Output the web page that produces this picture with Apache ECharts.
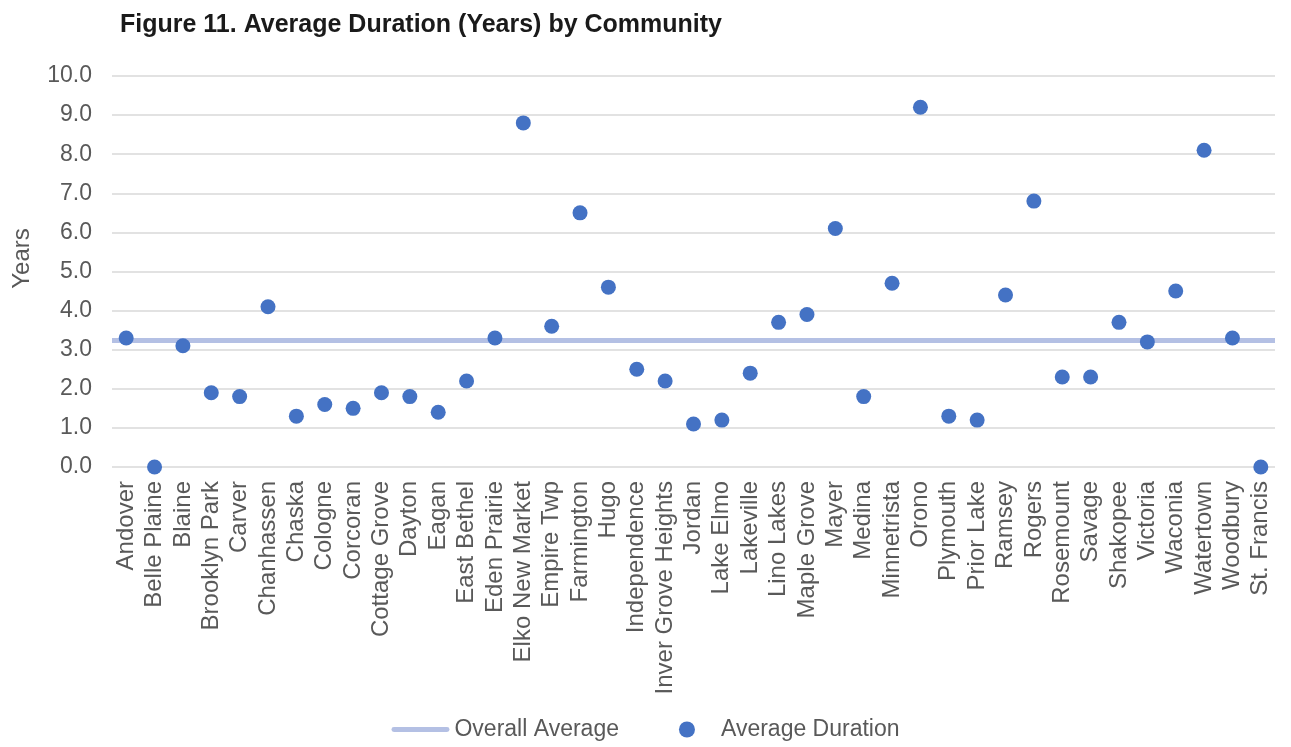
<!DOCTYPE html>
<html>
<head>
<meta charset="utf-8">
<script src="https://cdn.jsdelivr.net/npm/echarts@6/dist/echarts.min.js"></script>
<style>
html,body{margin:0;padding:0;background:#fff;}
#main{width:1291px;height:747px;}
</style>
</head>
<body>
<div id="main"></div>
<script>
var communities = ['Andover','Belle Plaine','Blaine','Brooklyn Park','Carver','Chanhassen','Chaska','Cologne','Corcoran','Cottage Grove','Dayton','Eagan','East Bethel','Eden Prairie','Elko New Market','Empire Twp','Farmington','Hugo','Independence','Inver Grove Heights','Jordan','Lake Elmo','Lakeville','Lino Lakes','Maple Grove','Mayer','Medina','Minnetrista','Orono','Plymouth','Prior Lake','Ramsey','Rogers','Rosemount','Savage','Shakopee','Victoria','Waconia','Watertown','Woodbury','St. Francis'];
var avgDuration = [3.3,0,3.1,1.9,1.8,4.1,1.3,1.6,1.5,1.9,1.8,1.4,2.2,3.3,8.8,3.6,6.5,4.6,2.5,2.2,1.1,1.2,2.4,3.7,3.9,6.1,1.8,4.7,9.2,1.3,1.2,4.4,6.8,2.3,2.3,3.7,3.2,4.5,8.1,3.3,0];
var overallAverage = 3.23;

var font = 'Liberation Sans';
var myChart = echarts.init(document.getElementById('main'));
var option = {
    backgroundColor: '#fff',
    animation: false,
    title: {
        text: 'Figure 11. Average Duration (Years) by Community',
        left: 115, top: 8,
        textStyle: {fontFamily: font, fontSize: 25, fontWeight: 'bold', color: '#1a1a1a'}
    },
    legend: {
        bottom: 1, left: 'center',
        itemGap: 60, itemWidth: 58, itemHeight: 16,
        textStyle: {fontFamily: font, fontSize: 23, color: '#595959'},
        data: [
            {name: 'Overall Average', icon: 'path://M2,0 L56,0 A2.5,2.5 0 0 1 56,5 L2,5 A2.5,2.5 0 0 1 2,0 Z', itemStyle: {color: '#b4c0e4'}},
            {name: 'Average Duration', icon: 'circle', itemStyle: {color: '#4472c4'}}
        ]
    },
    grid: {left: 112, right: 16, top: 76, bottom: 280},
    xAxis: {
        type: 'category',
        data: communities,
        axisLine: {show: false},
        axisTick: {show: false},
        axisLabel: {rotate: 90, interval: 0, margin: 14, fontFamily: font, fontSize: 24, color: '#595959'}
    },
    yAxis: {
        type: 'value',
        min: 0, max: 10, interval: 1,
        name: 'Years',
        nameLocation: 'middle',
        nameGap: 78,
        nameTextStyle: {fontFamily: font, fontSize: 24, color: '#595959', padding: [0, 0, 0, 26]},
        axisLabel: {formatter: function(v){ return v.toFixed(1); }, fontFamily: font, fontSize: 23, color: '#595959', margin: 20},
        splitLine: {lineStyle: {color: '#d9d9d9', width: 1.5}}
    },
    series: [
        {
            name: 'Overall Average',
            type: 'line',
            data: [],
            symbol: 'none',
            lineStyle: {color: '#b4c0e4', width: 5},
            itemStyle: {color: '#b4c0e4'},
            markLine: {
                silent: true,
                symbol: 'none',
                label: {show: false},
                lineStyle: {color: '#b4c0e4', width: 5, type: 'solid', opacity: 1},
                data: [{yAxis: overallAverage}]
            }
        },
        {
            name: 'Average Duration',
            type: 'scatter',
            data: avgDuration,
            symbolSize: 15,
            itemStyle: {color: '#4472c4', opacity: 1},
            z: 5
        }
    ]
};
myChart.setOption(option);
</script>
</body>
</html>
